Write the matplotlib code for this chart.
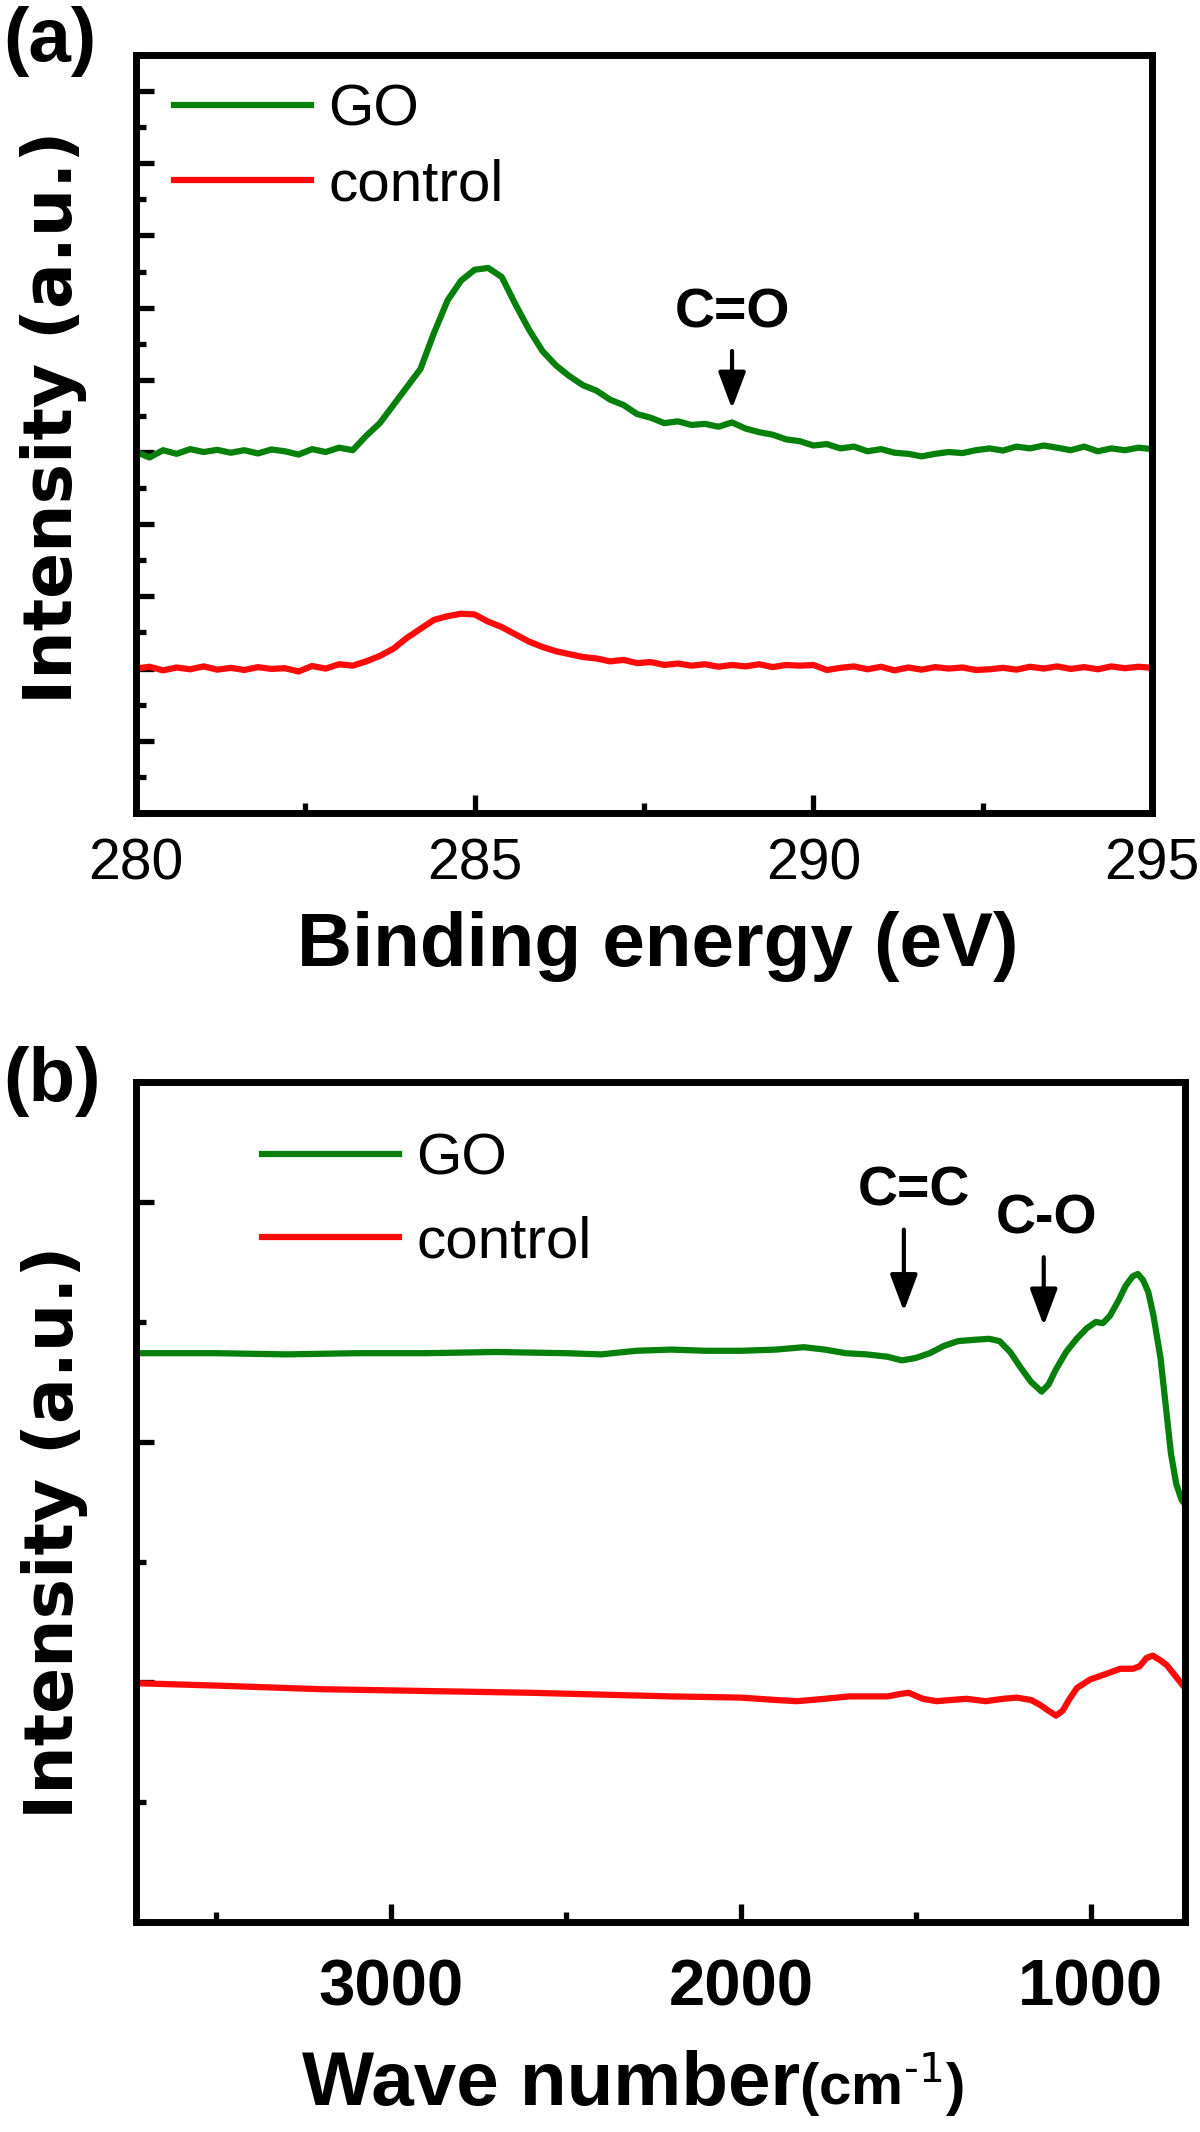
import numpy as np
import matplotlib.pyplot as plt
from matplotlib.ticker import MultipleLocator

plt.rcParams['font.family'] = ['Liberation Sans', 'DejaVu Sans']

# ---- (a) XPS C1s, sampled every 0.2 eV from 280 to 295 eV
xps_energy = np.linspace(280, 295, 76)
xps_go = [10.00, 9.85, 10.05, 9.95, 10.08, 10.00, 10.06, 9.98, 10.05, 9.96,
          10.07, 10.02, 9.93, 10.08, 10.00, 10.12, 10.05, 10.45, 10.80, 11.30,
          11.80, 12.30, 13.30, 14.20, 14.75, 15.05, 15.10, 14.85, 14.10, 13.40,
          12.80, 12.40, 12.10, 11.85, 11.70, 11.45, 11.30, 11.05, 10.95, 10.80,
          10.85, 10.75, 10.78, 10.70, 10.82, 10.65, 10.55, 10.48, 10.35, 10.30,
          10.18, 10.22, 10.10, 10.15, 10.02, 10.08, 9.98, 9.95, 9.88, 9.95,
          10.00, 9.97, 10.05, 10.10, 10.04, 10.15, 10.10, 10.18, 10.12, 10.05,
          10.15, 10.02, 10.10, 10.05, 10.12, 10.08]
xps_control = [4.00, 4.05, 3.95, 4.03, 3.98, 4.06, 3.97, 4.02, 3.96, 4.04,
               3.99, 4.01, 3.92, 4.07, 4.00, 4.12, 4.08, 4.20, 4.35, 4.55,
               4.85, 5.10, 5.35, 5.45, 5.52, 5.50, 5.30, 5.15, 4.95, 4.75,
               4.60, 4.48, 4.40, 4.32, 4.28, 4.20, 4.24, 4.15, 4.18, 4.10,
               4.14, 4.08, 4.12, 4.05, 4.10, 4.06, 4.12, 4.04, 4.10, 4.08,
               4.10, 3.96, 4.02, 4.06, 3.98, 4.05, 3.95, 4.03, 3.97, 4.04,
               4.00, 4.03, 3.96, 3.98, 4.02, 3.97, 4.05, 4.00, 4.06, 3.99,
               4.04, 3.98, 4.06, 4.01, 4.05, 4.02]

# ---- (b) FTIR
ftir_go_wn = [3730, 3500, 3300, 3100, 2900, 2700, 2500, 2400, 2300, 2200,
              2100, 2000, 1900, 1820, 1760, 1700, 1640, 1580, 1540, 1500,
              1460, 1420, 1380, 1340, 1290, 1260, 1230, 1200, 1170, 1140,
              1120, 1100, 1070, 1040, 1010, 985, 965, 945, 920, 900,
              880, 865, 850, 835, 820, 800, 785, 770, 755, 740, 730]
ftir_go = [4.74, 4.74, 4.73, 4.74, 4.74, 4.75, 4.74, 4.73, 4.76, 4.77,
           4.76, 4.76, 4.77, 4.79, 4.77, 4.74, 4.73, 4.71, 4.68, 4.70,
           4.74, 4.80, 4.84, 4.85, 4.86, 4.84, 4.75, 4.62, 4.50, 4.42,
           4.48, 4.60, 4.75, 4.86, 4.95, 5.00, 4.99, 5.05, 5.18, 5.30,
           5.38, 5.40, 5.35, 5.25, 5.05, 4.70, 4.30, 3.90, 3.65, 3.52, 3.48]
ftir_ctrl_wn = [3730, 3500, 3200, 3000, 2600, 2200, 2000, 1900, 1840, 1760,
                1690, 1620, 1580, 1545, 1520, 1480, 1440, 1400, 1354, 1300,
                1250, 1211, 1170, 1145, 1120, 1099, 1080, 1060, 1039, 1002,
                953, 916, 880, 860, 840, 822, 800, 782, 760, 730]
ftir_ctrl = [1.99, 1.97, 1.94, 1.93, 1.91, 1.88, 1.87, 1.85, 1.84, 1.86,
             1.88, 1.88, 1.88, 1.90, 1.91, 1.86, 1.84, 1.85, 1.86, 1.84,
             1.86, 1.87, 1.85, 1.81, 1.76, 1.72, 1.76, 1.86, 1.95, 2.02,
             2.07, 2.11, 2.11, 2.13, 2.20, 2.22, 2.18, 2.14, 2.06, 1.95]

green = '#07800b'
red = '#ff0a0a'
lw = 4.5

fig = plt.figure(figsize=(12, 21.32), dpi=100)
ax1 = fig.add_axes([0.1133, 0.6187, 0.8467, 0.3555])
ax2 = fig.add_axes([0.1133, 0.0985, 0.8742, 0.394])


def style_axes(ax, pad):
    for s in ax.spines.values():
        s.set_linewidth(5)
    ax.tick_params(which='both', direction='in', top=False, right=False,
                   width=3.8, pad=pad)
    ax.tick_params(which='major', length=13)
    ax.tick_params(which='minor', length=7)
    ax.set_yticklabels([])


def arrow(ax, x, y0, y1):
    ax.annotate('', xy=(x, y1), xytext=(x, y0),
                arrowprops=dict(arrowstyle='-|>,head_length=0.8,head_width=0.3',
                                lw=3, color='k', mutation_scale=28,
                                shrinkA=0, shrinkB=0))


# (a)
ax1.plot(xps_energy, xps_go, color=green, lw=lw, label='GO')
ax1.plot(xps_energy, xps_control, color=red, lw=lw, label='control')
ax1.set_xlim(280, 295)
ax1.set_ylim(0, 21)
ax1.xaxis.set_major_locator(MultipleLocator(5))
ax1.xaxis.set_minor_locator(MultipleLocator(2.5))
ax1.yaxis.set_major_locator(MultipleLocator(2))
ax1.yaxis.set_minor_locator(MultipleLocator(1))
style_axes(ax1, 18)
for t in ax1.get_xticklabels():
    t.set_fontsize(41)
ax1.set_xlabel('Binding energy (eV)', fontsize=55, fontweight='bold', va='top')
ax1.xaxis.set_label_coords(0.513, -0.13)
ax1.set_ylabel('Intensity (a.u.)', fontsize=49, fontweight='bold',
               family='DejaVu Sans', va='center')
ax1.yaxis.set_label_coords(-0.081, 0.522)
ax1.legend(loc='upper left', bbox_to_anchor=(0.037, 0.962), frameon=False,
           fontsize=42, handlelength=2.35, handletextpad=0.3,
           labelspacing=0.36, borderpad=0, borderaxespad=0)
ax1.text(288.8, 13.85, 'C=O', fontsize=40, fontweight='bold',
         ha='center', va='center')
arrow(ax1, 288.8, 12.8, 11.2)

# (b)
ax2.plot(ftir_go_wn, ftir_go, color=green, lw=lw, label='GO')
ax2.plot(ftir_ctrl_wn, ftir_ctrl, color=red, lw=lw, label='control')
ax2.set_xlim(3730, 730)
ax2.set_ylim(0, 7)
ax2.xaxis.set_major_locator(MultipleLocator(1000))
ax2.xaxis.set_minor_locator(MultipleLocator(500))
ax2.yaxis.set_major_locator(MultipleLocator(2))
ax2.yaxis.set_minor_locator(MultipleLocator(1))
style_axes(ax2, 26)
for t in ax2.get_xticklabels():
    t.set_fontsize(47)
    t.set_fontweight('bold')
ax2.set_xlabel('Wave number', fontsize=55, fontweight='bold', ha='left', va='top')
ax2.xaxis.set_label_coords(0.158, -0.152)
ax2.text(0.632, -0.218, '(cm$^{\\mathregular{\\text{-1}}}$)', transform=ax2.transAxes,
         fontsize=42, fontweight='bold', ha='left', va='baseline')
ax2.set_ylabel('Intensity (a.u.)', fontsize=49, fontweight='bold',
               family='DejaVu Sans', va='center')
ax2.yaxis.set_label_coords(-0.078, 0.464)
ax2.legend(loc='upper left', bbox_to_anchor=(0.12, 0.94), frameon=False,
           fontsize=42, handlelength=2.35, handletextpad=0.3,
           labelspacing=0.5, borderpad=0, borderaxespad=0)
ax2.text(1505, 6.09, 'C=C', fontsize=40, fontweight='bold', ha='center', va='center')
ax2.text(1125, 5.85, 'C-O', fontsize=40, fontweight='bold', ha='center', va='center')
arrow(ax2, 1534, 5.77, 5.09)
arrow(ax2, 1134, 5.54, 4.97)

fig.text(0.003, 1 - 6 / 2132, '(a)', fontsize=55, fontweight='bold', va='top', ha='left')
fig.text(0.003, 1 - 1046 / 2132, '(b)', fontsize=55, fontweight='bold', va='top', ha='left')

fig.savefig('out.png', dpi=100)
